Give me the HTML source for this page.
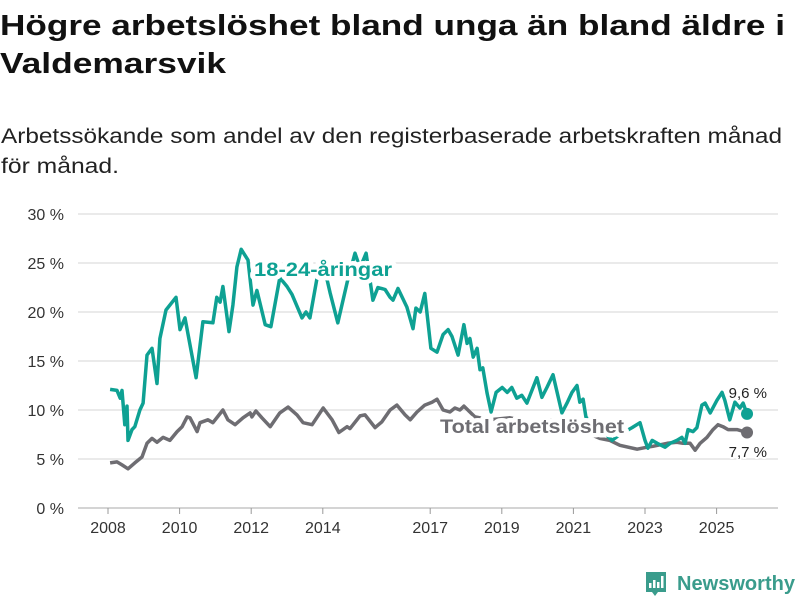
<!DOCTYPE html>
<html><head><meta charset="utf-8"><style>
html,body{margin:0;padding:0;background:#fff;}
svg{display:block;font-family:"Liberation Sans",sans-serif;}
</style></head><body>
<svg id="chart" width="800" height="600" viewBox="0 0 800 600">
<text x="0" y="35" font-size="29" font-weight="bold" fill="#111" textLength="785" lengthAdjust="spacingAndGlyphs">Högre arbetslöshet bland unga än bland äldre i</text>
<text x="0" y="73" font-size="29" font-weight="bold" fill="#111" textLength="226" lengthAdjust="spacingAndGlyphs">Valdemarsvik</text>
<text x="1" y="143" font-size="21" fill="#222" textLength="781" lengthAdjust="spacingAndGlyphs">Arbetssökande som andel av den registerbaserade arbetskraften månad</text>
<text x="1" y="173" font-size="21" fill="#222" textLength="118" lengthAdjust="spacingAndGlyphs">för månad.</text>
<g id="grid"></g>
<g id="xaxis"></g>
<g id="series"></g>
<g id="labels"></g>
<g>
<path d="M646 572h20v20h-8l-3 4-3-4h-6z" fill="#3a9c8c"/>
<rect x="649" y="583" width="2.5" height="5" fill="#fff"/>
<rect x="653" y="580" width="2.5" height="8" fill="#fff"/>
<rect x="657" y="582" width="2.5" height="6" fill="#fff"/>
<rect x="661" y="576" width="2.5" height="12" fill="#fff"/>
<text x="677" y="590" font-size="20" font-weight="bold" fill="#3a9c8c" textLength="118" lengthAdjust="spacingAndGlyphs">Newsworthy</text>
</g>
</svg>
<script>
const yTicks = [0,5,10,15,20,25,30];
const xTickYears = [2008,2010,2012,2014,2017,2019,2021,2023,2025];
const youthYears = [2008.06,2008.25,2008.34,2008.39,2008.47,2008.53,2008.56,2008.67,2008.75,2008.89,2008.98,2009.09,2009.23,2009.37,2009.45,2009.62,2009.90,2010.01,2010.15,2010.46,2010.65,2010.93,2011.04,2011.13,2011.21,2011.38,2011.49,2011.60,2011.72,2011.91,2012.05,2012.16,2012.39,2012.55,2012.80,2013.00,2013.14,2013.42,2013.53,2013.64,2013.84,2014.01,2014.20,2014.42,2014.68,2014.90,2015.04,2015.21,2015.40,2015.54,2015.74,2015.88,2015.96,2016.10,2016.35,2016.52,2016.60,2016.72,2016.85,2017.02,2017.19,2017.36,2017.50,2017.61,2017.78,2017.94,2018.03,2018.11,2018.20,2018.31,2018.39,2018.47,2018.59,2018.70,2018.84,2019.01,2019.15,2019.28,2019.42,2019.56,2019.70,2019.98,2020.12,2020.26,2020.43,2020.68,2020.82,2020.96,2021.10,2021.18,2021.27,2021.35,2021.69,2021.88,2022.08,2022.30,2022.64,2022.86,2023.00,2023.08,2023.20,2023.34,2023.56,2023.70,2023.89,2024.03,2024.12,2024.20,2024.34,2024.45,2024.59,2024.68,2024.82,2025.01,2025.15,2025.23,2025.37,2025.51,2025.65,2025.74,2025.85];
const youthValues = [12.1,12.0,11.2,12.0,8.5,10.4,6.9,8.0,8.3,10.0,10.7,15.6,16.3,12.7,17.3,20.2,21.5,18.2,19.4,13.3,19.0,18.9,21.5,21.0,22.6,18.0,20.7,24.6,26.4,25.3,20.7,22.2,18.7,18.5,23.5,22.6,21.8,19.4,20.0,19.4,23.5,25.0,22.0,18.9,23.0,26.0,24.5,26.0,21.2,22.5,22.3,21.5,21.2,22.4,20.5,18.3,20.4,20.0,21.9,16.3,15.9,17.7,18.2,17.5,15.6,18.7,16.8,17.3,15.4,16.3,14.1,14.3,11.7,9.8,11.8,12.3,11.8,12.3,11.2,11.5,10.7,13.3,11.3,12.3,13.6,9.7,10.7,11.8,12.5,10.8,11.1,9.3,8.0,7.6,6.9,7.5,8.2,8.7,6.9,6.1,6.9,6.6,6.2,6.6,6.9,7.2,6.6,8.0,7.8,8.2,10.5,10.7,9.7,11.0,11.8,11.0,9.0,10.8,10.2,10.7,9.6];
const totalYears = [2008.06,2008.25,2008.39,2008.56,2008.75,2008.95,2009.09,2009.23,2009.37,2009.54,2009.73,2009.93,2010.07,2010.21,2010.29,2010.49,2010.57,2010.79,2010.93,2011.21,2011.35,2011.55,2011.77,2011.97,2012.02,2012.13,2012.30,2012.53,2012.80,2013.03,2013.28,2013.45,2013.70,2014.01,2014.26,2014.45,2014.68,2014.76,2015.04,2015.18,2015.46,2015.65,2015.88,2016.07,2016.30,2016.44,2016.63,2016.85,2017.05,2017.19,2017.36,2017.55,2017.69,2017.83,2017.94,2018.11,2018.25,2018.67,2019.23,2019.79,2020.35,2020.77,2021.18,2021.55,2021.74,2022.02,2022.30,2022.78,2023.06,2023.22,2023.62,2023.89,2024.06,2024.26,2024.40,2024.54,2024.73,2024.90,2025.04,2025.18,2025.32,2025.57,2025.85];
const totalValues = [4.6,4.7,4.4,4.0,4.6,5.2,6.6,7.1,6.7,7.2,6.9,7.8,8.3,9.3,9.2,7.8,8.7,9.0,8.7,10.0,9.0,8.5,9.2,9.7,9.3,9.9,9.2,8.3,9.7,10.3,9.5,8.7,8.5,10.2,9.0,7.7,8.3,8.1,9.4,9.5,8.2,8.8,10.0,10.5,9.5,9.0,9.8,10.5,10.8,11.1,10.0,9.8,10.2,10.0,10.4,9.8,9.3,9.0,9.2,8.8,9.0,8.5,8.0,7.4,7.1,6.9,6.4,6.0,6.2,6.3,6.6,6.7,6.6,6.6,5.9,6.6,7.2,8.0,8.5,8.3,8.0,8.0,7.7];

const NS='http://www.w3.org/2000/svg';
const X0=78,X1=778,Y0=508,Y1=214;
const xs = y => 108 + (y-2008)*35.8;
const ys = v => Y0 - (v/30)*(Y0-Y1);
function mk(tag, attrs, parent){const e=document.createElementNS(NS,tag);for(const k in attrs)e.setAttribute(k,attrs[k]);parent.appendChild(e);return e;}
const grid=document.getElementById('grid');
yTicks.forEach(t=>{
  const l=mk('line',{x1:X0,x2:X1,y1:ys(t),y2:ys(t),stroke:t===0?'#bbb':'#ddd','stroke-width':1.3},grid);
  
  
  const tx=mk('text',{x:64,y:ys(t)+6,'font-size':16,fill:'#333','text-anchor':'end'},grid);
  tx.textContent=t+' %';
  
  
});
const xa=document.getElementById('xaxis');
xTickYears.forEach(y=>{
  const l=mk('line',{x1:xs(y),x2:xs(y),y1:Y0,y2:Y0+6,stroke:'#999','stroke-width':1},xa);
  
  
  const tx=mk('text',{x:xs(y),y:Y0+25,'font-size':16,fill:'#333','text-anchor':'middle'},xa);
  tx.textContent=y;
  
  
});
const sg=document.getElementById('series');
function drawLine(years,vals,color,name){
  const d=years.map((y,i)=>(i?'L':'M')+xs(y).toFixed(1)+' '+ys(vals[i]).toFixed(1)).join('');
  const p=mk('path',{d:d,fill:'none',stroke:color,'stroke-width':3.5,'stroke-linejoin':'round'},sg);
  
  
  const n=years.length-1;
  const c=mk('circle',{cx:xs(years[n]),cy:ys(vals[n]),r:6,fill:color},sg);
  
  
}
drawLine(totalYears,totalValues,'#6e6d72','total');
drawLine(youthYears,youthValues,'#0ea193','youth');
const lg=document.getElementById('labels');
function lab(x,y,txt,color,size,bold,name,anchor,len){
  const a={x:x,y:y,'font-size':size,fill:color,'text-anchor':anchor||'start',stroke:'#fff','stroke-width':bold?9:4,'paint-order':'stroke','stroke-linejoin':'round'};
  if(bold)a['font-weight']='bold';
  if(len){a.textLength=len;a.lengthAdjust='spacingAndGlyphs';}
  const t=mk('text',a,lg);t.textContent=txt;
  
  
}
lab(254,276,'18-24-åringar','#0ea193',19,true,'youth-series-label','start',138);
lab(440,433,'Total arbetslöshet','#6e6d72',19,true,'total-series-label','start',184);
lab(767,398,'9,6 %','#222',15,false,'youth-last-value-label','end');
lab(767,457,'7,7 %','#222',15,false,'total-last-value-label','end');
</script>
</body></html>
